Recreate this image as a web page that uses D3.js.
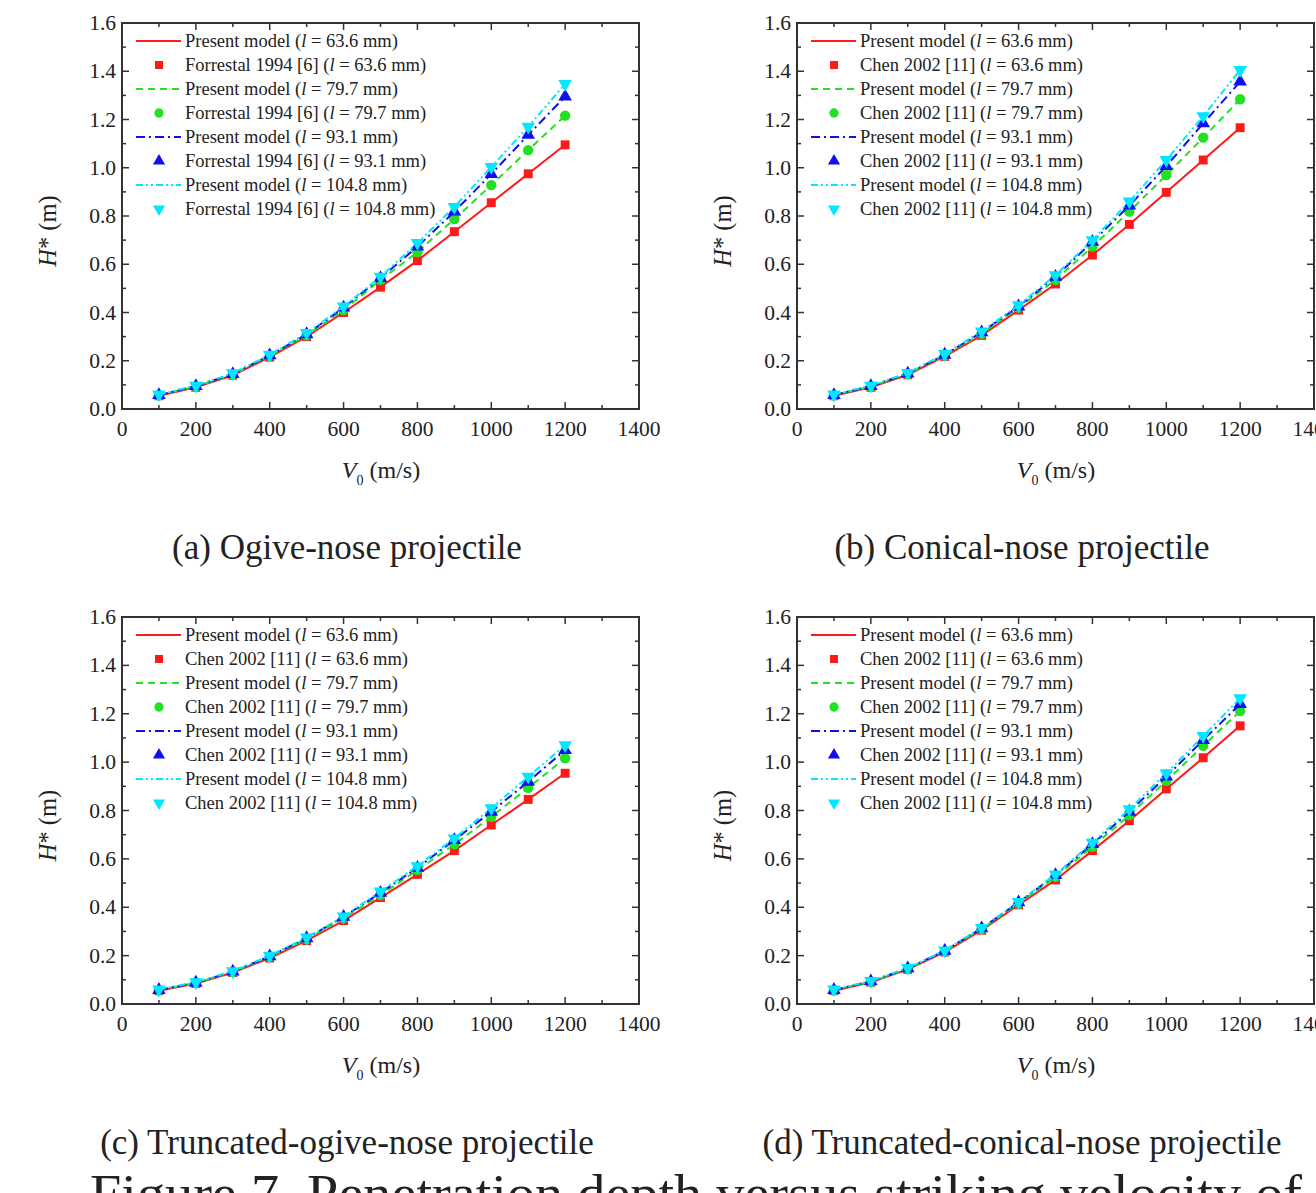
<!DOCTYPE html>
<html>
<head>
<meta charset="utf-8">
<script src="https://cdn.jsdelivr.net/npm/d3@7"></script>
<style>
  body { margin: 0; background: #fff; }
  svg text { font-family: "Liberation Serif", "DejaVu Serif", serif; fill: #222; }
</style>
</head>
<body>
<div id="chart"></div>
<script>
const WIDTH = 1316;
const HEIGHT = 1193;

// === DATA ===
const velocities = [100, 200, 300, 400, 500, 600, 700, 800, 900, 1000, 1100, 1200];
const lengths = ["63.6", "79.7", "93.1", "104.8"];

// (a) ogive-nose
const ogive_636 = [0.055, 0.09, 0.14, 0.215, 0.30, 0.40, 0.505, 0.615, 0.735, 0.855, 0.975, 1.095];
const ogive_797 = [0.057, 0.093, 0.143, 0.22, 0.305, 0.41, 0.535, 0.65, 0.787, 0.928, 1.073, 1.216];
const ogive_931 = [0.058, 0.095, 0.145, 0.222, 0.31, 0.42, 0.543, 0.673, 0.818, 0.974, 1.136, 1.295];
const ogive_1048 = [0.06, 0.097, 0.148, 0.225, 0.315, 0.425, 0.548, 0.688, 0.838, 1.003, 1.17, 1.347];

// (b) conical-nose
const conical_636 = [0.055, 0.09, 0.142, 0.218, 0.305, 0.41, 0.518, 0.638, 0.765, 0.898, 1.032, 1.166];
const conical_797 = [0.057, 0.093, 0.145, 0.222, 0.312, 0.42, 0.535, 0.673, 0.818, 0.97, 1.125, 1.284];
const conical_931 = [0.058, 0.095, 0.147, 0.225, 0.318, 0.425, 0.548, 0.693, 0.843, 1.007, 1.184, 1.357];
const conical_1048 = [0.06, 0.097, 0.15, 0.228, 0.322, 0.43, 0.555, 0.70, 0.86, 1.032, 1.214, 1.405];

// (c) truncated-ogive-nose
const tOgive_636 = [0.055, 0.085, 0.13, 0.19, 0.262, 0.345, 0.44, 0.536, 0.634, 0.74, 0.846, 0.954];
const tOgive_797 = [0.057, 0.087, 0.132, 0.195, 0.268, 0.355, 0.45, 0.554, 0.66, 0.774, 0.894, 1.016];
const tOgive_931 = [0.058, 0.088, 0.134, 0.197, 0.272, 0.36, 0.46, 0.563, 0.678, 0.795, 0.919, 1.05];
const tOgive_1048 = [0.06, 0.09, 0.136, 0.2, 0.275, 0.362, 0.465, 0.57, 0.685, 0.81, 0.94, 1.07];

// (d) truncated-conical-nose
const tConical_636 = [0.055, 0.09, 0.143, 0.215, 0.305, 0.41, 0.513, 0.634, 0.758, 0.889, 1.018, 1.15];
const tConical_797 = [0.057, 0.092, 0.145, 0.218, 0.31, 0.415, 0.526, 0.65, 0.781, 0.923, 1.067, 1.211];
const tConical_931 = [0.058, 0.094, 0.147, 0.22, 0.313, 0.42, 0.533, 0.661, 0.795, 0.94, 1.091, 1.24];
const tConical_1048 = [0.06, 0.095, 0.149, 0.222, 0.315, 0.422, 0.536, 0.667, 0.805, 0.954, 1.108, 1.264];

const xTicks = [0, 200, 400, 600, 800, 1000, 1200, 1400];
const yTicks = [0.0, 0.2, 0.4, 0.6, 0.8, 1.0, 1.2, 1.4, 1.6];

const panels = [
    { caption: "(a) Ogive-nose projectile", source: "Forrestal 1994 [6]",
      series: [ogive_636, ogive_797, ogive_931, ogive_1048], left: 122, top: 23, bottom: 409 },
    { caption: "(b) Conical-nose projectile", source: "Chen 2002 [11]",
      series: [conical_636, conical_797, conical_931, conical_1048], left: 797, top: 23, bottom: 409 },
    { caption: "(c) Truncated-ogive-nose projectile", source: "Chen 2002 [11]",
      series: [tOgive_636, tOgive_797, tOgive_931, tOgive_1048], left: 122, top: 617, bottom: 1004 },
    { caption: "(d) Truncated-conical-nose projectile", source: "Chen 2002 [11]",
      series: [tConical_636, tConical_797, tConical_931, tConical_1048], left: 797, top: 617, bottom: 1004 }
];

// styles per series
const STYLES = [
    { color: "#ff1a1a", dash: null, symbol: d3.symbolSquare, size: 80, rot: 0 },
    { color: "#22e022", dash: "7,5", symbol: d3.symbolCircle, size: 85, rot: 0 },
    { color: "#1010ee", dash: "9,4,2,4", symbol: d3.symbolTriangle, size: 80, rot: 0 },
    { color: "#00e8ff", dash: "7,3,2,3,2,3", symbol: d3.symbolTriangle, size: 80, rot: 180 }
];

const PLOT_W = 517;

const svg = d3.select("#chart")
    .append("svg")
    .attr("width", WIDTH)
    .attr("height", HEIGHT);

svg.append("rect").attr("width", WIDTH).attr("height", HEIGHT).attr("fill", "#fff");

// === DRAW PANEL ===
function drawPanel(p) {
    const x = d3.scaleLinear().domain([0, 1400]).range([p.left, p.left + PLOT_W]);
    const y = d3.scaleLinear().domain([0, 1.6]).range([p.bottom, p.top]);
    const g = svg.append("g");

    // minor ticks (x every 100, y every 0.1)
    const xMinor = d3.range(100, 1400, 200);
    const yMinor = d3.range(0.1, 1.6, 0.2);

    const tickG = g.append("g").attr("stroke", "#333").attr("stroke-width", 1.5);
    xTicks.forEach(t => {
        tickG.append("line").attr("x1", x(t)).attr("x2", x(t)).attr("y1", p.bottom).attr("y2", p.bottom - 7);
        tickG.append("line").attr("x1", x(t)).attr("x2", x(t)).attr("y1", p.top).attr("y2", p.top + 7);
    });
    xMinor.forEach(t => {
        tickG.append("line").attr("x1", x(t)).attr("x2", x(t)).attr("y1", p.bottom).attr("y2", p.bottom - 4);
        tickG.append("line").attr("x1", x(t)).attr("x2", x(t)).attr("y1", p.top).attr("y2", p.top + 4);
    });
    yTicks.forEach(t => {
        tickG.append("line").attr("x1", p.left).attr("x2", p.left + 7).attr("y1", y(t)).attr("y2", y(t));
        tickG.append("line").attr("x1", p.left + PLOT_W).attr("x2", p.left + PLOT_W - 7).attr("y1", y(t)).attr("y2", y(t));
    });
    yMinor.forEach(t => {
        tickG.append("line").attr("x1", p.left).attr("x2", p.left + 4).attr("y1", y(t)).attr("y2", y(t));
        tickG.append("line").attr("x1", p.left + PLOT_W).attr("x2", p.left + PLOT_W - 4).attr("y1", y(t)).attr("y2", y(t));
    });

    // frame
    g.append("rect")
        .attr("x", p.left).attr("y", p.top)
        .attr("width", PLOT_W).attr("height", p.bottom - p.top)
        .attr("fill", "none").attr("stroke", "#333").attr("stroke-width", 2);

    // tick labels
    g.selectAll(".xl").data(xTicks).enter().append("text")
        .attr("x", d => x(d)).attr("y", p.bottom + 27)
        .attr("text-anchor", "middle")
        .style("font-size", "21.5px")
        .text(d => d);
    g.selectAll(".yl").data(yTicks).enter().append("text")
        .attr("x", p.left - 6).attr("y", d => y(d) + 7)
        .attr("text-anchor", "end")
        .style("font-size", "21.5px")
        .text(d => d.toFixed(1));

    // axis titles
    const xt = g.append("text")
        .attr("x", p.left + 259).attr("y", p.bottom + 69)
        .attr("text-anchor", "middle")
        .style("font-size", "24px");
    xt.append("tspan").style("font-style", "italic").text("V");
    xt.append("tspan").attr("dy", 7).style("font-size", "14px").text("0");
    xt.append("tspan").attr("dy", -7).text(" (m/s)");

    const yt = g.append("text")
        .attr("transform", `translate(${p.left - 66},${(p.top + p.bottom) / 2 + 15}) rotate(-90)`)
        .attr("text-anchor", "middle")
        .style("font-size", "24.5px");
    yt.append("tspan").style("font-style", "italic").text("H");
    yt.append("tspan").text("* (m)");

    // series
    const line = d3.line().x((d, i) => x(velocities[i])).y(d => y(d));
    p.series.forEach((vals, k) => {
        const s = STYLES[k];
        g.append("path")
            .datum(vals)
            .attr("d", line)
            .attr("fill", "none")
            .attr("stroke", s.color)
            .attr("stroke-width", 2)
            .attr("stroke-dasharray", s.dash);
        g.selectAll(null).data(vals).enter().append("path")
            .attr("d", d3.symbol().type(s.symbol).size(s.size))
            .attr("transform", (d, i) => `translate(${x(velocities[i])},${y(d)}) rotate(${s.rot})`)
            .attr("fill", s.color);
    });

    // legend
    const lg = g.append("g");
    lengths.forEach((len, k) => {
        const s = STYLES[k];
        const y1 = p.top + 18 + k * 48;
        const y2 = y1 + 24;
        lg.append("line")
            .attr("x1", p.left + 14).attr("x2", p.left + 59)
            .attr("y1", y1).attr("y2", y1)
            .attr("stroke", s.color).attr("stroke-width", 2)
            .attr("stroke-dasharray", s.dash);
        lg.append("path")
            .attr("d", d3.symbol().type(s.symbol).size(s.size * 0.8))
            .attr("transform", `translate(${p.left + 37},${y2}) rotate(${s.rot})`)
            .attr("fill", s.color);
        const t1 = lg.append("text").attr("x", p.left + 63).attr("y", y1 + 6).style("font-size", "18.5px");
        t1.append("tspan").text("Present model (");
        t1.append("tspan").style("font-style", "italic").text("l");
        t1.append("tspan").text(` = ${len} mm)`);
        const t2 = lg.append("text").attr("x", p.left + 63).attr("y", y2 + 6).style("font-size", "18.5px");
        t2.append("tspan").text(`${p.source} (`);
        t2.append("tspan").style("font-style", "italic").text("l");
        t2.append("tspan").text(` = ${len} mm)`);
    });

    // caption
    svg.append("text")
        .attr("x", p.left + 225).attr("y", p.bottom + 150)
        .attr("text-anchor", "middle")
        .style("font-size", "35px")
        .text(p.caption);
}

panels.forEach(drawPanel);

// figure caption (cut off at bottom)
svg.append("text")
    .attr("x", 90).attr("y", 1211)
    .style("font-size", "52px")
    .attr("textLength", 1212)
    .attr("lengthAdjust", "spacingAndGlyphs")
    .text("Figure 7. Penetration depth versus striking velocity of");
</script>
</body>
</html>
